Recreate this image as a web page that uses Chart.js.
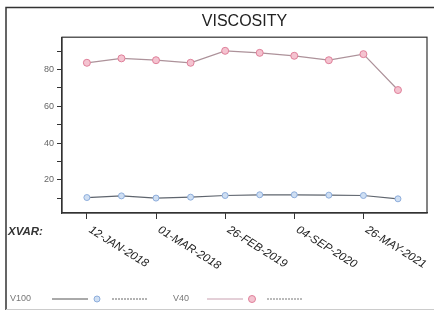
<!DOCTYPE html>
<html>
<head>
<meta charset="utf-8">
<script src="https://cdn.jsdelivr.net/npm/chart.js@4.4.1/dist/chart.umd.min.js"></script>
<style>
  html, body { margin: 0; padding: 0; background: #fff; }
  #wrap { width: 434px; height: 311px; position: relative; }
</style>
</head>
<body>
<div id="wrap"><canvas id="viscChart" width="434" height="311"></canvas></div>
<script>
// values, one per sample (x = sample number)
var v100 = [10.4, 11.3, 10.1, 10.6, 11.5, 11.9, 11.9, 11.7, 11.5, 9.7];
var v40 = [83.6, 86.0, 85.0, 83.6, 90.1, 89.0, 87.4, 85.0, 88.3, 68.8];

// tick labels sit on every other sample
var xTickIndex = [0, 2, 4, 6, 8];
var xTickLabels = ['12-JAN-2018', '01-MAR-2018', '26-FEB-2019', '04-SEP-2020', '26-MAY-2021'];
var yTicks = [10, 20, 30, 40, 50, 60, 70, 80, 90];
var yLabelled = [20, 40, 60, 80];

function toPoints(arr) {
  return arr.map(function(v, i) { return { x: i, y: v }; });
}

var frameAndText = {
  id: 'frameAndText',
  beforeDraw: function(chart) {
    var c = chart.ctx;
    c.save();
    c.fillStyle = '#fff';
    c.fillRect(0, 0, chart.width, chart.height);
    c.strokeStyle = '#333';
    c.lineWidth = 1.5;
    c.beginPath();
    c.moveTo(6, 310);
    c.lineTo(6, 7.5);
    c.lineTo(434, 7.5);
    c.stroke();
    c.strokeStyle = '#ccc';
    c.lineWidth = 1;
    c.beginPath();
    c.moveTo(6, 309.5);
    c.lineTo(434, 309.5);
    c.stroke();
    c.restore();
  },
  afterDraw: function(chart) {
    var c = chart.ctx;
    var a = chart.chartArea;
    var xs = chart.scales.x;
    c.save();
    // box round the plot
    c.strokeStyle = '#333';
    c.lineWidth = 1.2;
    c.strokeRect(a.left, a.top, a.right - a.left, a.bottom - a.top);

    // XVAR label
    c.fillStyle = '#333';
    c.font = 'italic bold 11.5px "Liberation Sans", Arial, sans-serif';
    c.textBaseline = 'top';
    c.textAlign = 'left';
    c.fillText('XVAR:', 8, 226);

    // slanted date labels
    c.font = 'italic 11.5px "Liberation Sans", Arial, sans-serif';
    c.fillStyle = '#222';
    xTickIndex.forEach(function(idx, i) {
      var px = xs.getPixelForValue(idx);
      c.save();
      c.translate(px + 6, a.bottom + 11);
      c.rotate(32 * Math.PI / 180);
      c.fillText(xTickLabels[i], 0, 0);
      c.restore();
    });

    // legend: label, line, marker, line
    var ly = 299;
    var items = [
      { text: 'V100', x: 10, line1: '#555', line2: '#666', ds: chart.data.datasets[0], l1: 52, mk: 97, l2: 112 },
      { text: 'V40', x: 173, line1: '#c9a0b0', line2: '#777', ds: chart.data.datasets[1], l1: 207, mk: 252, l2: 267 }
    ];
    c.font = '9px "Liberation Sans", Arial, sans-serif';
    c.textBaseline = 'middle';
    items.forEach(function(it) {
      c.fillStyle = '#777';
      c.fillText(it.text, it.x, ly);
      c.lineWidth = 1;
      c.strokeStyle = it.line1;
      c.beginPath();
      c.moveTo(it.l1, ly);
      c.lineTo(it.l1 + 36, ly);
      c.stroke();
      c.strokeStyle = it.line2;
      c.setLineDash([2, 1]);
      c.beginPath();
      c.moveTo(it.l2, ly);
      c.lineTo(it.l2 + 36, ly);
      c.stroke();
      c.setLineDash([]);
      c.fillStyle = it.ds.pointBackgroundColor;
      c.strokeStyle = it.ds.pointBorderColor;
      c.beginPath();
      c.arc(it.mk, ly, it.ds.pointRadius, 0, Math.PI * 2);
      c.fill();
      c.stroke();
    });
    c.restore();
  }
};

document.addEventListener("DOMContentLoaded", function() {
  var ctx = document.getElementById('viscChart').getContext('2d');

  new Chart(ctx, {
    type: 'line',
    data: {
      datasets: [{
        label: 'V100',
        data: toPoints(v100),
        borderColor: '#5f656e',
        borderWidth: 1.2,
        pointRadius: 3,
        pointBackgroundColor: '#cfdff3',
        pointBorderColor: '#8eaedc',
        pointBorderWidth: 1,
        tension: 0
      }, {
        label: 'V40',
        data: toPoints(v40),
        borderColor: '#ad929a',
        borderWidth: 1.2,
        pointRadius: 3.5,
        pointBackgroundColor: '#f4c3d0',
        pointBorderColor: '#e0809a',
        pointBorderWidth: 1,
        tension: 0
      }]
    },
    options: {
      responsive: false,
      animation: false,
      layout: { padding: { left: 0, right: 7, top: 0, bottom: 0 } },
      plugins: {
        legend: { display: false },
        tooltip: { enabled: false },
        title: {
          display: true,
          text: 'VISCOSITY',
          fullSize: false,
          color: '#222',
          font: { family: '"Liberation Sans", Arial, sans-serif', size: 16, weight: 'normal', lineHeight: 1.2 },
          padding: { top: 12, bottom: 6 }
        }
      },
      scales: {
        x: {
          type: 'linear',
          min: -0.72,
          max: 9.84,
          afterBuildTicks: function(scale) {
            scale.ticks = xTickIndex.map(function(v) { return { value: v }; });
          },
          afterFit: function(scale) { scale.height = 98; },
          ticks: { display: false },
          grid: { drawOnChartArea: false, drawTicks: true, tickLength: 6, color: '#333' },
          border: { display: true, color: '#333', width: 1.2 }
        },
        y: {
          min: 2,
          max: 97.5,
          afterBuildTicks: function(scale) {
            scale.ticks = yTicks.map(function(v) { return { value: v }; });
          },
          afterFit: function(scale) { scale.width = 62; },
          ticks: {
            padding: 3,
            color: '#666',
            font: { family: '"Liberation Sans", Arial, sans-serif', size: 9 },
            callback: function(value) {
              return yLabelled.indexOf(value) >= 0 ? String(value) : '';
            }
          },
          grid: { drawOnChartArea: false, drawTicks: true, tickLength: 5, color: '#333' },
          border: { display: true, color: '#333', width: 1.2 }
        }
      }
    },
    plugins: [frameAndText]
  });
});
</script>
</body>
</html>
